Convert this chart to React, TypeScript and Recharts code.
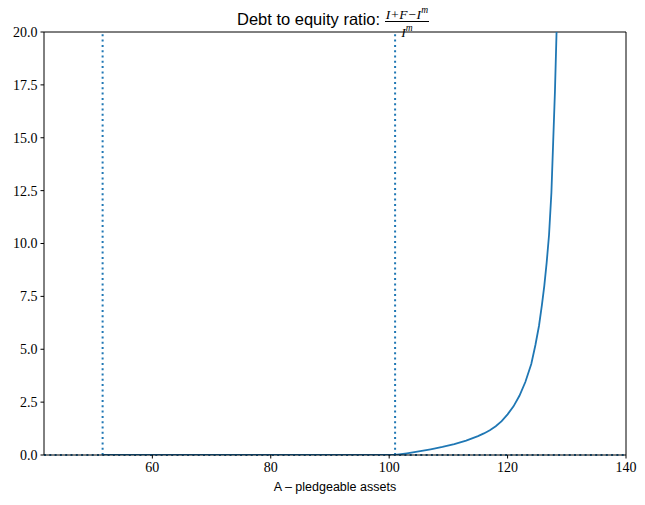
import React from "react";
import {
  LineChart,
  Line,
  XAxis,
  YAxis,
  ReferenceLine,
} from "recharts";

// pledgeable assets A
const assets = [
  51.6, 60, 70, 80, 90, 100, 101, 103, 105, 107, 109, 111, 113, 115, 116, 117,
  118, 119, 120, 121, 122, 123, 124, 124.7, 125.3, 125.8, 126.2, 126.6, 127.0,
  127.4, 127.7, 128.0, 128.3, 128.5,
];
// debt to equity ratio
const ratio = [
  0, 0, 0, 0, 0, 0, 0, 0.08, 0.17, 0.27, 0.38, 0.51, 0.68, 0.89, 1.02, 1.17, 1.36,
  1.6, 1.92, 2.3, 2.8, 3.45, 4.3, 5.2, 6.1, 7.1, 8.0, 9.1, 10.4, 12.4, 14.8, 17.2,
  20.3, 23,
];
const thresholds = [51.6, 101];
const xTicks = [60, 80, 100, 120, 140];
const yTicks = [0, 2.5, 5, 7.5, 10, 12.5, 15, 17.5, 20];

const data = assets.map((a, i) => ({ a, r: ratio[i] }));

const blue = "#1f77b4";
const tickStyle = { fill: "#000", fontSize: 14, fontFamily: "Liberation Serif" };

export default function App() {
  return (
    <div style={{ position: "absolute", top: 0, left: 0, width: 645, height: 505 }}>
      <div
        style={{
          position: "absolute",
          top: 5,
          left: 42,
          width: 582,
          textAlign: "center",
          fontFamily: "Liberation Sans",
          fontSize: 16.5,
          lineHeight: "20px",
        }}
      >
        Debt to equity ratio:{" "}
        <span
          style={{
            display: "inline-block",
            verticalAlign: "middle",
            textAlign: "center",
            fontFamily: "Liberation Serif",
            fontStyle: "italic",
            fontSize: 13.5,
            lineHeight: "11px",
          }}
        >
          <span style={{ display: "block", borderBottom: "1px solid #000", padding: "0 1px 1px" }}>
            I+F−I<sup style={{ fontSize: 9.5 }}>m</sup>
          </span>
          <span style={{ display: "block", paddingTop: 1 }}>
            I<sup style={{ fontSize: 9.5 }}>m</sup>
          </span>
        </span>
      </div>
      <LineChart
        width={645}
        height={505}
        data={data}
        margin={{ top: 32, right: 19, bottom: 0, left: 0 }}
      >
        <XAxis
          dataKey="a"
          type="number"
          domain={[41.7, 140]}
          allowDataOverflow
          ticks={xTicks}
          height={50}
          tickSize={3.5}
          tickMargin={4}
          stroke="#000"
          tick={tickStyle}
          label={{
            value: "A – pledgeable assets",
            position: "insideBottom",
            offset: 14,
            fill: "#000",
            fontSize: 12.5,
            fontFamily: "Liberation Sans",
          }}
        />
        <YAxis
          type="number"
          domain={[0, 20]}
          allowDataOverflow
          ticks={yTicks}
          width={44}
          tickSize={3.5}
          tickMargin={3}
          stroke="#000"
          tick={tickStyle}
          tickFormatter={(v: number) => v.toFixed(1)}
        />
        <ReferenceLine y={0} stroke={blue} strokeWidth={2} strokeDasharray="2 3.3" />
        {thresholds.map((t) => (
          <ReferenceLine key={t} x={t} stroke={blue} strokeWidth={2} strokeDasharray="2 3.3" />
        ))}
        <ReferenceLine y={20} stroke="#000" />
        <ReferenceLine x={140} stroke="#000" />
        <Line
          type="linear"
          dataKey="r"
          stroke={blue}
          strokeWidth={1.8}
          dot={false}
          isAnimationActive={false}
        />
      </LineChart>
    </div>
  );
}
